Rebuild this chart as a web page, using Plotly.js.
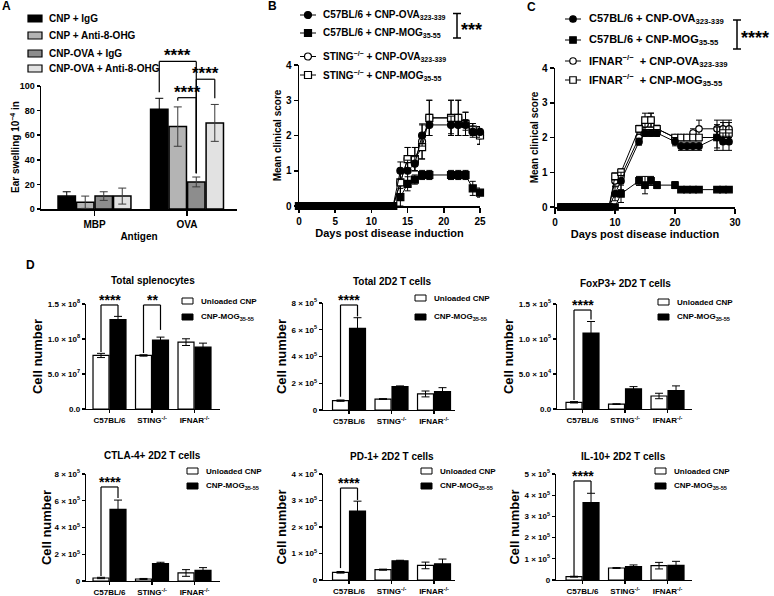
<!DOCTYPE html>
<html><head><meta charset="utf-8">
<script src="https://cdn.plot.ly/plotly-3.0.1.min.js"></script>
<style>html,body{margin:0;padding:0;background:#fff}</style>
</head><body><div id="chart" style="width:774px;height:596px"></div>
<script>
// ================= DATA =================
// Panel A: ear swelling (10^-4 in)
const antigenCats = ['MBP', 'OVA'];
const aNames = ['CNP + IgG', 'CNP + Anti-8-OHG', 'CNP-OVA + IgG', 'CNP-OVA + Anti-8-OHG'];
const aCnpIgG = [10.5, 81];
const aCnpIgGErr = [3.5, 9];
const aCnpAnti = [5.5, 67];
const aCnpAntiErr = [5, 16];
const aOvaIgG = [10.5, 22];
const aOvaIgGErr = [3.5, 4];
const aOvaAnti = [10.5, 70];
const aOvaAntiErr = [6.5, 15];

// Panel B: clinical score, STING-/-
const bNames = ['C57BL/6 + CNP-OVA<sub>323-339</sub>', 'C57BL/6 + CNP-MOG<sub>35-55</sub>',
                'STING<sup>−/−</sup> + CNP-OVA<sub>323-339</sub>', 'STING<sup>−/−</sup> + CNP-MOG<sub>35-55</sub>'];
const bDays = [0,1,2,3,4,5,6,7,8,9,10,11,12,13,14,15,16,17,18,21,22,23,24,25];
const bC57Ova    = [0,0,0,0,0,0,0,0,0,0,0,0,0,0,1.0,1.0,1.2,2.0,2.3,2.3,2.3,2.3,2.1,2.1];
const bC57OvaErr = [0,0,0,0,0,0,0,0,0,0,0,0,0,0,0.25,0.3,0.2,0.3,0.3,0.25,0.3,0.15,0.15,0.15];
const bC57Mog    = [0,0,0,0,0,0,0,0,0,0,0,0,0,0,0.25,0.63,0.75,0.88,0.88,0.88,0.88,0.88,0.5,0.38];
const bC57MogErr = [0,0,0,0,0,0,0,0,0,0,0,0,0,0,0.25,0.2,0.13,0.13,0.13,0.13,0.13,0.13,0.2,0.13];
const bStingOva    = [0,0,0,0,0,0,0,0,0,0,0,0,0,0,0.67,1.33,1.33,1.83,2.5,2.5,2.5,2.33,2.17,2.0];
const bStingOvaErr = [0,0,0,0,0,0,0,0,0,0,0,0,0,0,0.33,0.33,0.33,0.5,0.5,0.5,0.5,0.33,0.17,0.25];
const bStingMog    = [0,0,0,0,0,0,0,0,0,0,0,0,0,0,0.67,1.33,1.33,1.67,2.5,2.5,2.5,2.33,2.17,2.0];
const bStingMogErr = [0,0,0,0,0,0,0,0,0,0,0,0,0,0,0.33,0.33,0.33,0.33,0.5,0.5,0.5,0.33,0.17,0.25];

// Panel C: clinical score, IFNAR-/-
const cNames = ['C57BL/6 + CNP-OVA<sub>323-339</sub>', 'C57BL/6 + CNP-MOG<sub>35-55</sub>',
                'IFNAR<sup>−/−</sup>\u00a0\u00a0+ CNP-OVA<sub>323-339</sub>', 'IFNAR<sup>−/−</sup>\u00a0\u00a0+ CNP-MOG<sub>35-55</sub>'];
const cDays = [1,2,3,4,5,6,7,8,9,10,11,14,15,16,17,20,21,22,23,24,27,28,29];
const cC57Ova    = [0,0,0,0,0,0,0,0,0,0.38,0.75,1.88,2.13,2.13,2.13,1.88,1.75,1.75,1.75,1.75,2.0,1.88,1.88];
const cC57OvaErr = [0,0,0,0,0,0,0,0,0,0.2,0.25,0.1,0.1,0.1,0.1,0.12,0.12,0.12,0.12,0.12,0.37,0.25,0.25];
const cC57Mog    = [0,0,0,0,0,0,0,0,0,0,0.38,0.75,0.63,0.75,0.63,0.63,0.5,0.5,0.5,0.5,0.5,0.5,0.5];
const cC57MogErr = [0,0,0,0,0,0,0,0,0,0,0.25,0.13,0.25,0.13,0.1,0.1,0,0,0,0,0,0,0];
const cIfnarOva    = [0,0,0,0,0,0,0,0,0,0.75,0.88,2.0,2.38,2.5,2.25,2.0,2.0,2.0,2.13,2.25,2.25,2.25,2.25];
const cIfnarOvaErr = [0,0,0,0,0,0,0,0,0,0.15,0.15,0.1,0.15,0.2,0.1,0.05,0.05,0.05,0.12,0.25,0.25,0.25,0.25];
const cIfnarMog    = [0,0,0,0,0,0,0,0,0,0.88,1.0,2.25,2.5,2.5,2.25,2.0,2.0,2.0,2.0,2.0,2.0,2.13,2.13];
const cIfnarMogErr = [0,0,0,0,0,0,0,0,0,0.1,0.1,0.1,0.2,0.2,0.1,0.05,0.05,0.05,0.05,0.05,0.3,0.3,0.3];

// Panel D: cell numbers
const dCats = ['C57BL/6', 'STING-/-', 'IFNAR-/-'];
const dCatLabels = ['C57BL/6', 'STING<sup>-/-</sup>', 'IFNAR<sup>-/-</sup>'];
const dNames = ['Unloaded CNP', 'CNP-MOG<sub>35-55</sub>'];
const dTitles = ['Total splenocytes', 'Total 2D2 T cells', 'FoxP3+ 2D2 T cells',
                 'CTLA-4+ 2D2 T cells', 'PD-1+ 2D2 T cells', 'IL-10+ 2D2 T cells'];
const splUnloaded = [7.65e7, 7.65e7, 9.55e7];
const splUnloadedErr = [0.3e7, 0.1e7, 0.48e7];
const splMog = [1.276e8, 0.984e8, 0.884e8];
const splMogErr = [0.047e8, 0.043e8, 0.057e8];
const t2d2Unloaded = [0.7e5, 0.82e5, 1.2e5];
const t2d2UnloadedErr = [0.05e5, 0.03e5, 0.22e5];
const t2d2Mog = [6.1e5, 1.75e5, 1.37e5];
const t2d2MogErr = [0.8e5, 0.05e5, 0.3e5];
const foxUnloaded = [9.6e3, 7e3, 1.86e4];
const foxUnloadedErr = [1e3, 0.5e3, 3.9e3];
const foxMog = [1.085e5, 2.87e4, 2.63e4];
const foxMogErr = [1.65e4, 3.3e3, 6.7e3];
const ctlaUnloaded = [2.25e4, 1.5e4, 6e4];
const ctlaUnloadedErr = [0.5e4, 0.4e4, 2.5e4];
const ctlaMog = [5.35e5, 1.3e5, 8e4];
const ctlaMogErr = [0.7e5, 0.1e5, 2e4];
const pd1Unloaded = [2.9e4, 3.9e4, 5.5e4];
const pd1UnloadedErr = [0.3e4, 0.2e4, 1.25e4];
const pd1Mog = [2.6e5, 7.25e4, 6.1e4];
const pd1MogErr = [0.375e5, 0.2e4, 1.8e4];
const il10Unloaded = [1.57e4, 5.66e4, 6.76e4];
const il10UnloadedErr = [0.2e4, 0.2e4, 1.55e4];
const il10Mog = [3.65e5, 6.3e4, 6.9e4];
const il10MogErr = [0.44e5, 0.8e4, 1.9e4];

// tick labels
const dTickVals1 = [0, 5e7, 1e8, 1.5e8];
const dTickText1 = ['0.0', '5.0 × 10<sup>7</sup>', '1.0 × 10<sup>8</sup>', '1.5 × 10<sup>8</sup>'];
const dTickVals2 = [0, 2e5, 4e5, 6e5, 8e5];
const dTickText2 = ['0', '2 × 10<sup>5</sup>', '4 × 10<sup>5</sup>', '6 × 10<sup>5</sup>', '8 × 10<sup>5</sup>'];
const dTickVals3 = [0, 5e4, 1e5, 1.5e5];
const dTickText3 = ['0.0', '5.0 × 10<sup>4</sup>', '1.0 × 10<sup>5</sup>', '1.5 × 10<sup>5</sup>'];
const dTickVals5 = [0, 1e5, 2e5, 3e5, 4e5];
const dTickText5 = ['0', '1 × 10<sup>5</sup>', '2 × 10<sup>5</sup>', '3 × 10<sup>5</sup>', '4 × 10<sup>5</sup>'];
const dTickVals6 = [0, 1e5, 2e5, 3e5, 4e5, 5e5];
const dTickText6 = ['0', '1 × 10<sup>5</sup>', '2 × 10<sup>5</sup>', '3 × 10<sup>5</sup>', '4 × 10<sup>5</sup>', '5 × 10<sup>5</sup>'];

// ================= BUILD =================
const W = 774, H = 596;
const PX = v => v / W;
const PY = v => 1 - v / H;
const FONT = 'Liberation Sans, Arial, Helvetica, sans-serif';
const BARGAP = 0.2;

function ax(extra) {
  return Object.assign({
    showline: true, linecolor: '#000', linewidth: 1.5,
    ticks: 'outside', ticklen: 4, tickwidth: 1.5, tickcolor: '#000',
    showgrid: false, zeroline: false, fixedrange: true, automargin: false,
  }, extra);
}

const traces = [];
const shapes = [];
const annotations = [];
const layout = {
  width: W, height: H, margin: {l: 0, r: 0, t: 0, b: 0},
  paper_bgcolor: '#fff', plot_bgcolor: 'rgba(0,0,0,0)',
  font: {family: FONT, size: 10, color: '#000', weight: 'bold'},
  showlegend: false, barmode: 'group', bargap: BARGAP, bargroupgap: 0.06,
};

// ---- Panel A ----
const aRange = [-0.578, 1.54];
layout.xaxis = ax({domain: [PX(41), PX(237)], anchor: 'y', type: 'category', range: aRange,
  categoryarray: antigenCats, tickfont: {size: 10}, ticklen: 5,
  title: {text: 'Antigen', font: {size: 10}, standoff: 4}});
layout.yaxis = ax({domain: [PY(209), PY(86)], anchor: 'x', range: [0, 100], dtick: 20,
  tickfont: {size: 9}, ticklen: 3});
annotations.push({xref: 'paper', yref: 'paper', x: PX(15), y: PY(147), xanchor: 'center', yanchor: 'middle',
  textangle: -90, text: 'Ear swelling 10<sup>−4</sup> in', showarrow: false, font: {size: 10}});
const aSeries = [
  {y: aCnpIgG, e: aCnpIgGErr, c: '#000000'},
  {y: aCnpAnti, e: aCnpAntiErr, c: '#b4b4b4'},
  {y: aOvaIgG, e: aOvaIgGErr, c: '#8d8d8d'},
  {y: aOvaAnti, e: aOvaAntiErr, c: '#e2e2e2'},
];
aSeries.forEach((s, i) => traces.push({
  type: 'bar', name: aNames[i], x: antigenCats, y: s.y, xaxis: 'x', yaxis: 'y',
  marker: {color: s.c, line: {color: '#000', width: 1.5}},
  error_y: {type: 'data', array: s.e, visible: true, color: i === 0 ? '#000' : '#3a3a3a', thickness: 1, width: 4},
}));
// legend A
[18.5, 35.5, 53.5, 68.5].forEach((yy, i) => {
  shapes.push({type: 'rect', xref: 'paper', yref: 'paper', x0: PX(28), x1: PX(42), y0: PY(yy + 3.5), y1: PY(yy - 3.5),
    fillcolor: aSeries[i].c, line: {color: '#000', width: 1.2}});
  annotations.push({xref: 'paper', yref: 'paper', x: PX(47), y: PY(yy), xanchor: 'left', yanchor: 'middle',
    text: aNames[i], showarrow: false, font: {size: 10}});
});

// helpers for significance brackets in axis-domain coordinates
function fx(r, c) { return (c - r[0]) / (r[1] - r[0]); }
function bracket(xa, ya, xr, ymax, c0, c1, top, bl, br, stars, fs, ysh) {
  const xref = xa + ' domain', yref = ya + ' domain';
  const L = {color: '#000', width: 1.2};
  shapes.push({type: 'line', xref, yref, x0: fx(xr, c0), x1: fx(xr, c0), y0: bl / ymax, y1: top / ymax, line: L});
  shapes.push({type: 'line', xref, yref, x0: fx(xr, c0), x1: fx(xr, c1), y0: top / ymax, y1: top / ymax, line: L});
  shapes.push({type: 'line', xref, yref, x0: fx(xr, c1), x1: fx(xr, c1), y0: br / ymax, y1: top / ymax, line: L});
  annotations.push({xref, yref, x: fx(xr, (c0 + c1) / 2), y: top / ymax, xanchor: 'center', yanchor: 'bottom',
    yshift: ysh, text: stars, showarrow: false, font: {size: fs}});
}
const aStep = (1 - BARGAP) / 4;
const aPos = k => 1 + (k - 1.5) * aStep;
bracket('x', 'y', aRange, 100, aPos(0), aPos(2), 120, 95, 29, '****', 17, -6);
bracket('x', 'y', aRange, 100, aPos(1), aPos(2), 90.5, 88, 29, '****', 17, -6);
bracket('x', 'y', aRange, 100, aPos(2), aPos(3), 105.5, 29, 90, '****', 17, -6);

// ---- Panels B & C ----
function lineTrace(xa, ya, x, y, err, symbol, fill, size, name) {
  return {type: 'scatter', mode: 'lines+markers', name, x, y, xaxis: xa, yaxis: ya, cliponaxis: false,
    line: {color: '#000', width: 1},
    marker: {symbol, size, color: fill, line: {color: '#000', width: 1.2}},
    error_y: {type: 'data', array: err, visible: true, color: '#000', thickness: 1, width: 3}};
}
layout.xaxis2 = ax({domain: [PX(299), PX(480)], anchor: 'y2', range: [0, 25], tickvals: [0, 5, 10, 15, 20, 25],
  tickfont: {size: 10}, ticklen: 5,
  title: {text: 'Days post disease induction', font: {size: 11}, standoff: 4}});
layout.yaxis2 = ax({domain: [PY(206), PY(65)], anchor: 'x2', range: [0, 4], dtick: 1,
  tickfont: {size: 10}, ticklen: 4,
  title: {text: 'Mean clinical score', font: {size: 10}, standoff: 2}});
traces.push(lineTrace('x2', 'y2', bDays, bStingOva, bStingOvaErr, 'circle', '#fff', 7, bNames[2]));
traces.push(lineTrace('x2', 'y2', bDays, bStingMog, bStingMogErr, 'square', '#fff', 7, bNames[3]));
traces.push(lineTrace('x2', 'y2', bDays, bC57Ova, bC57OvaErr, 'circle', '#000', 7, bNames[0]));
traces.push(lineTrace('x2', 'y2', bDays, bC57Mog, bC57MogErr, 'square', '#000', 7, bNames[1]));

layout.xaxis3 = ax({domain: [PX(555), PX(735)], anchor: 'y3', range: [0, 30], tickvals: [0, 10, 20, 30],
  tickfont: {size: 10}, ticklen: 5,
  title: {text: 'Days post disease induction', font: {size: 11}, standoff: 4}});
layout.yaxis3 = ax({domain: [PY(207), PY(68)], anchor: 'x3', range: [0, 4], dtick: 1,
  tickfont: {size: 10}, ticklen: 4,
  title: {text: 'Mean clinical score', font: {size: 10}, standoff: 1}});
traces.push(lineTrace('x3', 'y3', cDays, cIfnarOva, cIfnarOvaErr, 'circle', '#fff', 6.5, cNames[2]));
traces.push(lineTrace('x3', 'y3', cDays, cIfnarMog, cIfnarMogErr, 'square', '#fff', 6.5, cNames[3]));
traces.push(lineTrace('x3', 'y3', cDays, cC57Ova, cC57OvaErr, 'circle', '#000', 6.5, cNames[0]));
traces.push(lineTrace('x3', 'y3', cDays, cC57Mog, cC57MogErr, 'square', '#000', 6.5, cNames[1]));

// custom legends for B and C
function lineLegend(cx, halfLen, rows, names, textX, fs, msz) {
  const styles = [['circle', '#000'], ['rect', '#000'], ['circle', '#fff'], ['rect', '#fff']];
  rows.forEach((yy, i) => {
    shapes.push({type: 'line', xref: 'paper', yref: 'paper', x0: PX(cx - halfLen), x1: PX(cx + halfLen), y0: PY(yy), y1: PY(yy),
      line: {color: '#000', width: 1}});
    const r = msz / 2;
    shapes.push({type: styles[i][0], xref: 'paper', yref: 'paper', x0: PX(cx - r), x1: PX(cx + r), y0: PY(yy + r), y1: PY(yy - r),
      fillcolor: styles[i][1], line: {color: '#000', width: 1.2}});
    annotations.push({xref: 'paper', yref: 'paper', x: PX(textX), y: PY(yy), xanchor: 'left', yanchor: 'middle',
      text: names[i], showarrow: false, font: {size: fs}});
  });
}
lineLegend(308, 8, [15, 33, 56.5, 75], bNames, 321, 10, 7);
lineLegend(573, 8, [19, 40, 61, 80], cNames, 587, 11, 6.5);
function sigBar(x, y0, y1, text, fs) {
  const L = {color: '#000', width: 1.5};
  shapes.push({type: 'line', xref: 'paper', yref: 'paper', x0: PX(x), x1: PX(x), y0: PY(y0), y1: PY(y1), line: L});
  shapes.push({type: 'line', xref: 'paper', yref: 'paper', x0: PX(x - 4), x1: PX(x + 4), y0: PY(y0), y1: PY(y0), line: L});
  shapes.push({type: 'line', xref: 'paper', yref: 'paper', x0: PX(x - 4), x1: PX(x + 4), y0: PY(y1), y1: PY(y1), line: L});
  annotations.push({xref: 'paper', yref: 'paper', x: PX(x + 2), y: PY((y0 + y1) / 2), xanchor: 'left', yanchor: 'middle',
    yshift: -4, text: text, showarrow: false, font: {size: fs}});
}
sigBar(457, 13.5, 38, '***', 18);
sigBar(737, 20, 49, '****', 18);

// ---- Panel D ----
const dPanels = [
  {u: splUnloaded, ue: splUnloadedErr, m: splMog, me: splMogErr, xd: [86, 220], yd: [409, 304], xr: [-0.553, 2.6], ymax: 1.5e8, tv: dTickVals1, tt: dTickText1, st: 2, leg: [182, 301, 317], title: [153, 280]},
  {u: t2d2Unloaded, ue: t2d2UnloadedErr, m: t2d2Mog, me: t2d2MogErr, xd: [323, 455], yd: [410, 303], xr: [-0.612, 2.494], ymax: 8e5, tv: dTickVals2, tt: dTickText2, st: 2, leg: [415, 298, 317], title: [392, 281]},
  {u: foxUnloaded, ue: foxUnloadedErr, m: foxMog, me: foxMogErr, xd: [557, 692], yd: [409, 304], xr: [-0.6, 2.576], ymax: 1.5e5, tv: dTickVals3, tt: dTickText3, st: 2, leg: [658, 302, 317], title: [625, 283]},
  {u: ctlaUnloaded, ue: ctlaUnloadedErr, m: ctlaMog, me: ctlaMogErr, xd: [86, 220], yd: [581, 474], xr: [-0.553, 2.6], ymax: 8e5, tv: dTickVals2, tt: dTickText2, st: 0, leg: [187, 471, 486], title: [152, 455]},
  {u: pd1Unloaded, ue: pd1UnloadedErr, m: pd1Mog, me: pd1MogErr, xd: [323, 455], yd: [580, 474], xr: [-0.612, 2.494], ymax: 4e5, tv: dTickVals5, tt: dTickText5, st: 2, leg: [421, 471, 486], title: [392, 456]},
  {u: il10Unloaded, ue: il10UnloadedErr, m: il10Mog, me: il10MogErr, xd: [556, 692], yd: [580, 474], xr: [-0.624, 2.576], ymax: 5e5, tv: dTickVals6, tt: dTickText6, st: 2, leg: [655, 471, 486], title: [623, 456]},
];
const dSig = [
  [[0, 1.486e8, 0.814e8, 1.33e8, '****'], [1, 1.486e8, 0.8e8, 1.13e8, '**']],
  [[0, 7.85e5, 0.99e5, 7.0e5, '****']],
  [[0, 1.414e5, 1.29e4, 1.28e5, '****']],
  [[0, 7.03e5, 0.37e5, 6.2e5, '****']],
  [[0, 3.47e5, 0.45e5, 3.02e5, '****']],
  [[0, 4.67e5, 0.19e5, 4.1e5, '****']],
];
const dOff = (1 - BARGAP) / 4;
dPanels.forEach((p, i) => {
  const n = i + 4, xa = 'x' + n, ya = 'y' + n;
  layout['xaxis' + n] = ax({domain: [PX(p.xd[0]), PX(p.xd[1])], anchor: ya, type: 'category', range: p.xr,
    categoryarray: dCats, tickvals: dCats, ticktext: dCatLabels, tickfont: {size: 8}, ticklen: 3, linewidth: 1.3, tickwidth: 1.3});
  layout['yaxis' + n] = ax({domain: [PY(p.yd[0]), PY(p.yd[1])], anchor: xa, range: [0, p.ymax],
    tickvals: p.tv, ticktext: p.tt, tickfont: {size: 8}, ticklen: 3, linewidth: 1.3, tickwidth: 1.3,
    title: {text: 'Cell number', font: {size: 13}, standoff: p.st}});
  traces.push({type: 'bar', name: 'Unloaded CNP', x: dCats, y: p.u, xaxis: xa, yaxis: ya,
    marker: {color: '#fff', line: {color: '#000', width: 1.2}},
    error_y: {type: 'data', array: p.ue, visible: true, color: '#000', thickness: 1, width: 4}});
  traces.push({type: 'bar', name: 'CNP-MOG35-55', x: dCats, y: p.m, xaxis: xa, yaxis: ya,
    marker: {color: '#000', line: {color: '#000', width: 1.2}},
    error_y: {type: 'data', array: p.me, visible: true, color: '#000', thickness: 1, width: 4}});
  annotations.push({xref: 'paper', yref: 'paper', x: PX(p.title[0]), y: PY(p.title[1]), xanchor: 'center', yanchor: 'middle',
    text: dTitles[i], showarrow: false, font: {size: 10}});
  // legend
  [[p.leg[1], '#fff', dNames[0]], [p.leg[2], '#000', dNames[1]]].forEach(([yy, c, t]) => {
    shapes.push({type: 'rect', xref: 'paper', yref: 'paper', x0: PX(p.leg[0]), x1: PX(p.leg[0] + 11), y0: PY(yy + 3), y1: PY(yy - 3),
      fillcolor: c, line: {color: '#000', width: 1}});
    annotations.push({xref: 'paper', yref: 'paper', x: PX(p.leg[0] + 17), y: PY(yy), xanchor: 'left', yanchor: 'middle',
      text: t, showarrow: false, font: {size: 8}});
  });
  dSig[i].forEach(s => bracket(xa, ya, p.xr, p.ymax, s[0] - dOff, s[0] + dOff, s[1], s[2], s[3], s[4], 14, -5));
});

// panel letters
[['A', 6, 6], ['B', 272, 6], ['C', 531, 7], ['D', 31, 265]].forEach(([t, x, y]) => {
  annotations.push({xref: 'paper', yref: 'paper', x: PX(x), y: PY(y), xanchor: 'center', yanchor: 'middle',
    text: t, showarrow: false, font: {size: 12}});
});

layout.shapes = shapes;
layout.annotations = annotations;
Plotly.newPlot('chart', traces, layout, {staticPlot: true, displayModeBar: false});
</script></body></html>
